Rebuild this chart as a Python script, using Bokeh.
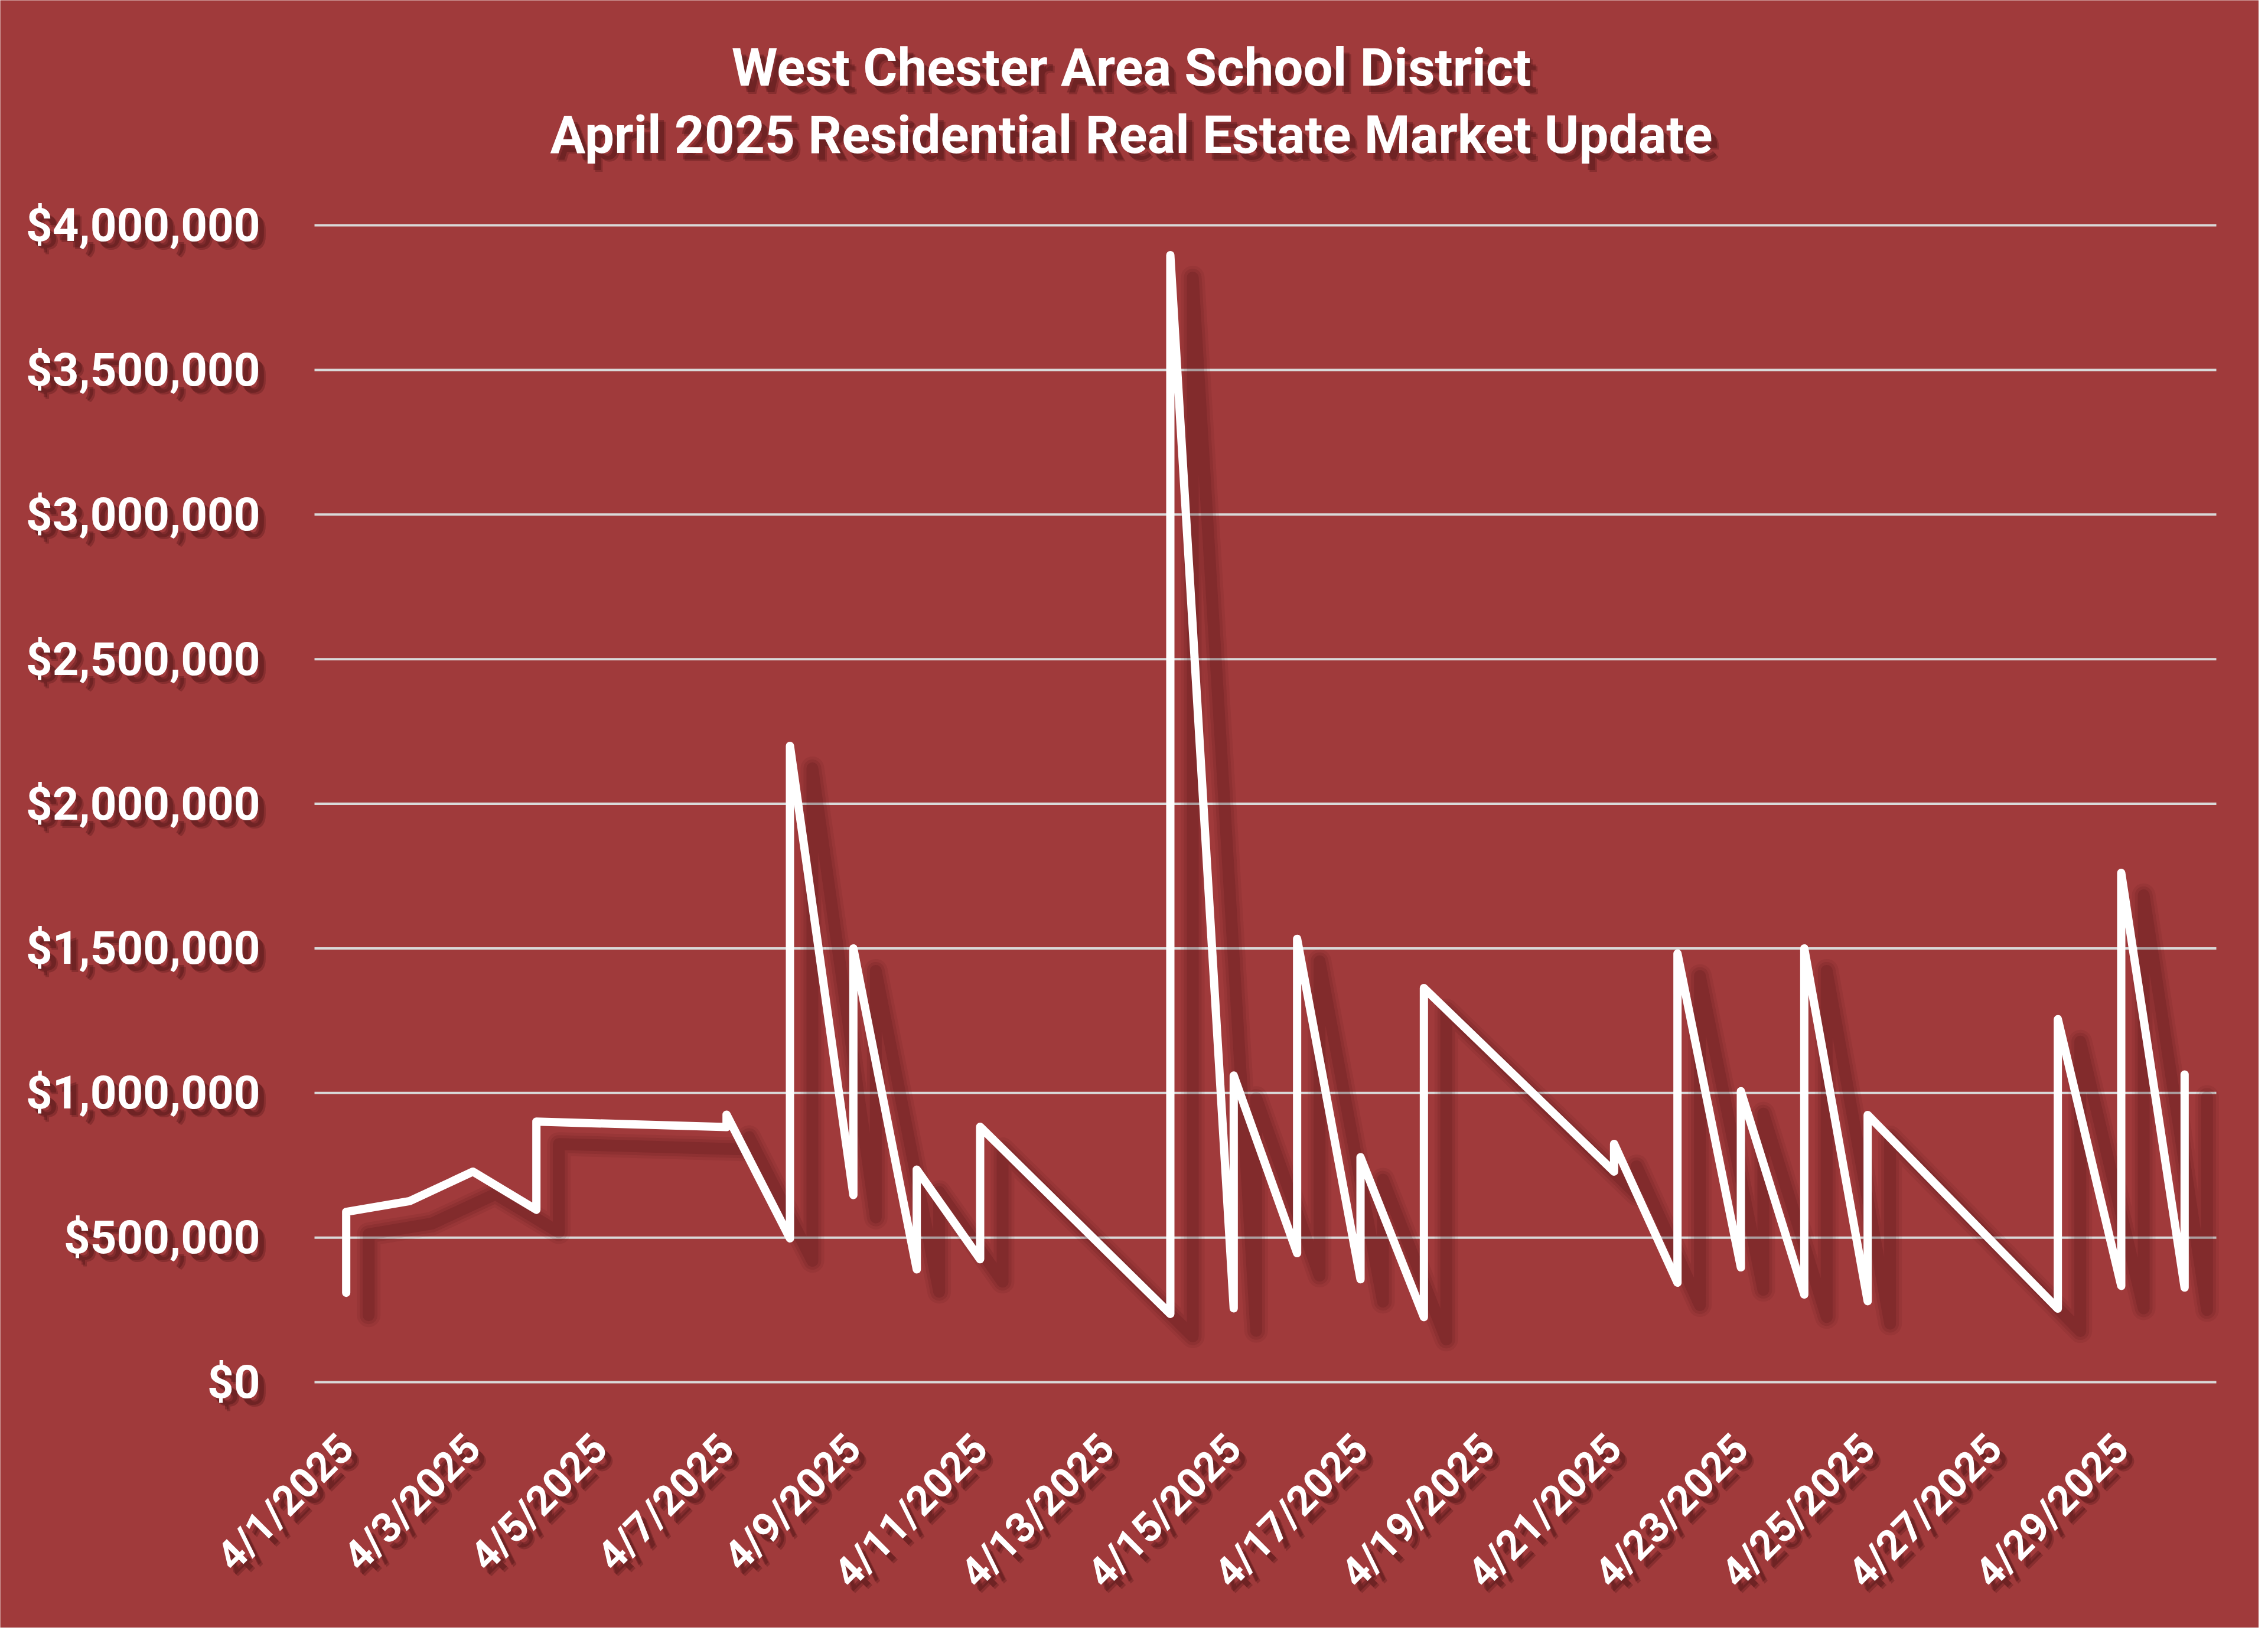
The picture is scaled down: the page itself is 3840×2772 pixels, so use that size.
import math
import pandas as pd
from bokeh.plotting import figure
from bokeh.models import Range1d, ColumnDataSource, LabelSet, Label
from bokeh.transform import dodge
from bokeh.embed import file_html
from bokeh.resources import INLINE
from bokeh.core.properties import value

# ---------------- data ----------------
title_lines = ["West Chester Area School District",
               "April 2025 Residential Real Estate Market Update"]

sale_dates = ["4/1/2025", "4/1/2025", "4/2/2025", "4/3/2025", "4/4/2025", "4/4/2025",
              "4/7/2025", "4/7/2025", "4/8/2025", "4/8/2025", "4/9/2025", "4/9/2025",
              "4/10/2025", "4/10/2025", "4/11/2025", "4/11/2025", "4/14/2025", "4/14/2025",
              "4/15/2025", "4/15/2025", "4/16/2025", "4/16/2025", "4/17/2025", "4/17/2025",
              "4/18/2025", "4/18/2025", "4/21/2025", "4/21/2025", "4/22/2025", "4/22/2025",
              "4/23/2025", "4/23/2025", "4/24/2025", "4/24/2025", "4/25/2025", "4/25/2025",
              "4/28/2025", "4/28/2025", "4/29/2025", "4/29/2025", "4/30/2025", "4/30/2025"]
sale_prices = [309000, 589000, 626000, 728000, 596000, 901000,
               882000, 925000, 497000, 2200000, 647000, 1500000,
               390000, 735000, 425000, 883000, 236000, 3897000,
               255000, 1060000, 446000, 1533000, 356000, 778000,
               225000, 1363000, 728000, 824000, 344000, 1482000,
               397000, 1006000, 303000, 1500000, 280000, 924000,
               254000, 1255000, 333000, 1761000, 327000, 1064000]

x_tick_labels = ["4/1/2025", "4/3/2025", "4/5/2025", "4/7/2025", "4/9/2025",
                 "4/11/2025", "4/13/2025", "4/15/2025", "4/17/2025", "4/19/2025",
                 "4/21/2025", "4/23/2025", "4/25/2025", "4/27/2025", "4/29/2025"]
y_ticks = [0, 500000, 1000000, 1500000, 2000000, 2500000, 3000000, 3500000, 4000000]
y_tick_labels = ["$0", "$500,000", "$1,000,000", "$1,500,000", "$2,000,000",
                 "$2,500,000", "$3,000,000", "$3,500,000", "$4,000,000"]

# ---------------- style / layout ----------------
BG = "#A03A3B"
GRID = "#D9D9D9"
SHADOW = "#3a0a0c"
FONT = "Roboto"

W, H = 3824, 2756
PL, PR, PT, PB = 532, 72, 381, 416          # space around the plotting area (px)
area_w = W - PL - PR
area_h = H - PT - PB

day_of_month = [int(d) for d in pd.to_datetime(sale_dates, format="%m/%d/%Y").day]
x_tick_pos = [int(d) for d in pd.to_datetime(x_tick_labels, format="%m/%d/%Y").day]

x0, x1 = 0.5, 30.5            # date axis: half a day of padding each side
y0, y1 = 0, 4000000
px_x = (x1 - x0) / area_w     # data units per pixel
px_y = (y1 - y0) / area_h

p = figure(width=W, height=H, output_backend="svg", toolbar_location=None,
           x_axis_type=None, y_axis_type=None,
           x_range=Range1d(x0 - PL * px_x, x1 + PR * px_x),
           y_range=Range1d(y0 - PB * px_y, y1 + PT * px_y),
           min_border=0, min_border_left=0, min_border_right=0,
           min_border_top=0, min_border_bottom=0,
           background_fill_color=BG, border_fill_color=BG, outline_line_color=None)

# horizontal gridlines across the plotting area only
p.segment(x0=[x0] * len(y_ticks), x1=[x1] * len(y_ticks), y0=y_ticks, y1=y_ticks,
          line_color=GRID, line_width=4, level="underlay")

# ---------------- line + shadow ----------------
src = ColumnDataSource(dict(x=day_of_month, y=sale_prices))
SH_DX, SH_DY = 38, 38
for w, a in [(40, 0.07), (30, 0.10), (20, 0.14)]:
    p.line(x=dodge("x", SH_DX * px_x, range=p.x_range),
           y=dodge("y", -SH_DY * px_y, range=p.y_range),
           source=src, line_color=SHADOW, line_alpha=a, line_width=w,
           line_join="round", line_cap="round")
p.line(x="x", y="y", source=src, line_color="white", line_width=14,
       line_join="round", line_cap="round")

# ---------------- tick labels (with soft shadows) ----------------
Y_STANDOFF = 92
X_STANDOFF = 100
Y_FS, X_FS, T_FS = "78px", "70px", "89px"
SHADOW_LAYERS = [(10, 11, 0.30), (13, 14, 0.25)]


def label_set(xs, ys, texts, color, alpha, fs, angle, align, level, dx=0, dy=0):
    s = ColumnDataSource(dict(x=[v + dx * px_x for v in xs],
                              y=[v - dy * px_y for v in ys], text=texts))
    return LabelSet(x="x", y="y", text="text", source=s, level=level, angle=angle,
                    text_align=align, text_baseline="middle",
                    text_color=color, text_alpha=alpha, text_font=value(FONT),
                    text_font_style="bold", text_font_size=fs)


ylab_x = [x0 - Y_STANDOFF * px_x] * len(y_ticks)
xlab_y = [y0 - X_STANDOFF * px_y] * len(x_tick_pos)
for dx, dy, a in SHADOW_LAYERS:
    p.add_layout(label_set(ylab_x, y_ticks, y_tick_labels, SHADOW, a, Y_FS, 0,
                           "right", "underlay", dx, dy))
    p.add_layout(label_set(x_tick_pos, xlab_y, x_tick_labels, SHADOW, a, X_FS,
                           math.pi / 4, "right", "underlay", dx, dy))
p.add_layout(label_set(ylab_x, y_ticks, y_tick_labels, "white", 1.0, Y_FS, 0,
                       "right", "annotation"))
p.add_layout(label_set(x_tick_pos, xlab_y, x_tick_labels, "white", 1.0, X_FS,
                       math.pi / 4, "right", "annotation"))

# ---------------- title ----------------
title_cx = x0 + 1383 * px_x
title_base = [267, 153]   # px above plotting area top (text baseline)
for line, up in zip(title_lines, title_base):
    for dx, dy, a in SHADOW_LAYERS:
        p.add_layout(Label(x=title_cx + dx * px_x, y=y1 + (up - dy) * px_y, text=line,
                           text_align="center", text_baseline="alphabetic",
                           text_color=SHADOW, text_alpha=a, text_font=FONT,
                           text_font_style="bold", text_font_size=T_FS, level="underlay"))
    p.add_layout(Label(x=title_cx, y=y1 + up * px_y, text=line,
                       text_align="center", text_baseline="alphabetic",
                       text_color="white", text_font=FONT,
                       text_font_style="bold", text_font_size=T_FS))

open("out.html", "w").write(file_html(p, INLINE))
